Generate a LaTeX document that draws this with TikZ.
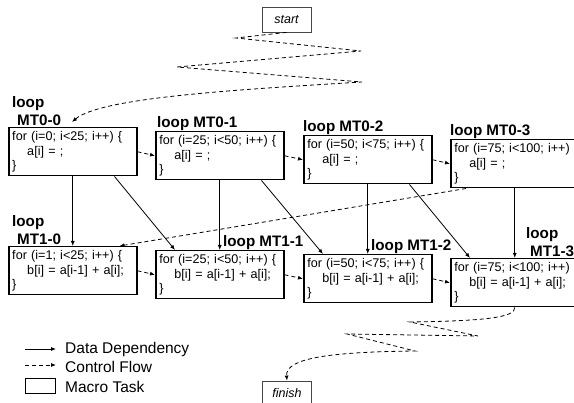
\documentclass[tikz,border=0pt]{standalone}
\usepackage{fontspec}
\setmainfont{Liberation Sans}
\usetikzlibrary{arrows.meta, positioning, calc}
\definecolor{termgray}{RGB}{70,70,70}
\tikzset{
  task/.style  = {draw, line width=1.5pt, rectangle, anchor=north west,
                  minimum width=128pt, minimum height=48pt, text width=121pt,
                  align=left, inner xsep=3.5pt, inner ysep=0pt,
                  font=\fontsize{12.6}{14.5}\selectfont},
  lbl/.style   = {anchor=base west, inner sep=0pt,
                  font=\fontsize{15.2}{18}\selectfont\bfseries},
  term/.style  = {draw=termgray, line width=0.8pt, minimum width=49pt,
                  minimum height=25pt, inner sep=0pt,
                  font=\fontsize{12.5}{15}\selectfont\itshape},
  legtext/.style = {anchor=base west, inner sep=0pt,
                  font=\fontsize{15.5}{18}\selectfont},
  dep/.style   = {-{Latex[length=5pt, width=4pt]}, line width=0.8pt},
  flow/.style  = {dep, dash pattern=on 4pt off 3pt},
}
\begin{document}
\begin{tikzpicture}[x=1pt, y=-1pt]
  \useasboundingbox (0,0) rectangle (574,403);
  % terminals
  \node[term] (start) at (286.5,19.5) {start};
  \node[term, minimum height=24pt] (finish) at (287,393) {finish};
  % first loop
  \foreach \n/\lo/\hi/\x/\y in {0/0/25/8/127, 1/25/50/155/131, 2/50/75/303/135, 3/75/100/450/139} {
    \node[task] (a\n) at (\x,\y)
      {\mbox{for (i=\lo; i<\hi; i++) \{}\\\hspace*{15pt}a[i] = ;\\\}};
  }
  % second loop
  \foreach \n/\lo/\hi/\x/\y in {0/1/25/8/246, 1/25/50/155/250, 2/50/75/303/254, 3/75/100/450/258} {
    \node[task] (b\n) at (\x,\y)
      {\mbox{for (i=\lo; i<\hi; i++) \{}\\\hspace*{15pt}b[i] = a[i-1] + a[i];\\\}};
  }
  % labels
  \node[lbl, align=left] (l00) at (12,126) {loop\\\hspace*{5pt}MT0-0};
  \node[lbl, align=left] (l10) at (12,245) {loop\\\hspace*{5pt}MT1-0};
  \node[lbl, align=left] (l13) at (526,257) {loop\\\hspace*{4pt}MT1-3};
  \foreach \r/\c/\x/\y in {0/1/157/128, 0/2/303/132, 0/3/450/136, 1/1/223/247, 1/2/371/251}
    \node[lbl] (l\r\c) at (\x,\y) {loop MT\r-\c};
  % data dependency
  \foreach \i in {0,...,3}
    \draw[dep] (a\i.south) -- (b\i.north);
  \foreach \i/\j in {0/1, 1/2, 2/3}
    \draw[dep] ([xshift=-23pt]a\i.south east) -- ([xshift=20pt]b\j.north west);
  % control flow
  \foreach \i/\j in {0/1, 1/2, 2/3} {
    \draw[flow] (a\i.east) -- (a\j.west);
    \draw[flow] (b\i.east) -- (b\j.west);
  }
  \draw[flow] ([xshift=16pt]a3.south west) -- ([xshift=-18pt]b0.north east);
  \coordinate (in0) at (72,122);
  \draw[flow] (start.south) -- (236,38) -- (361,51) -- (177,67) -- (362,82)
    .. controls (230,90) and (100,98) .. (in0);
  \draw[flow] (b3.south) .. controls (516,318) and (480,321) .. (410,322)
    -- (478,336) -- (347,334) -- (415,351)
    .. controls (330,352) and (285,358) .. (finish.north);
  % legend
  \coordinate (dd1) at (25,349);
  \coordinate (dd2) at (56,349);
  \coordinate (cf1) at (25,365);
  \coordinate (cf2) at (56,365);
  \draw[dep] (dd1) -- (dd2);
  \draw[flow] (cf1) -- (cf2);
  \node[draw, line width=0.8pt, minimum width=30pt, minimum height=15pt,
        inner sep=0pt] (mt) at (40,385.5) {};
  \node[legtext] (ddtext) at (65,354) {Data Dependency};
  \node[legtext] (cftext) at (65,373) {Control Flow};
  \node[legtext] (mttext) at (65,393) {Macro Task};
\end{tikzpicture}
\end{document}
